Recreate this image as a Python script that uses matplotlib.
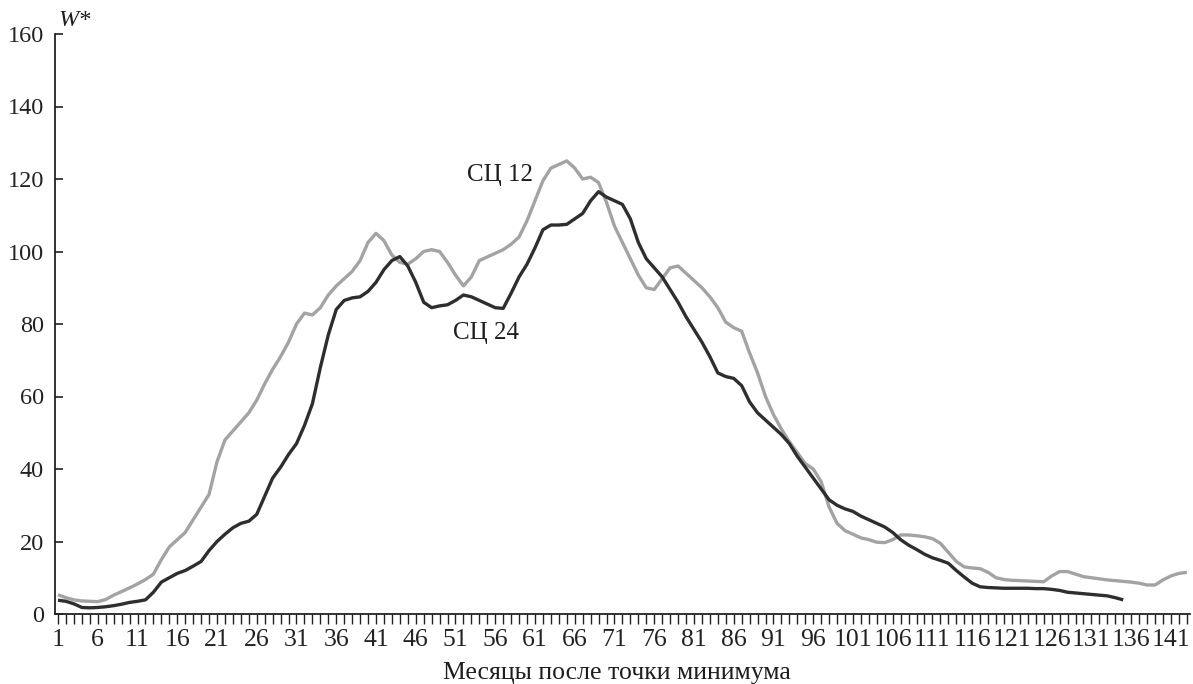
import matplotlib
matplotlib.use("Agg")
import matplotlib.pyplot as plt

# ---- data ----
sc12 = [5.3, 4.5, 3.9, 3.6, 3.5, 3.4, 4.0, 5.2, 6.2, 7.2,
        8.3, 9.5, 11.0, 15.0, 18.5, 20.5, 22.5, 26.0, 29.5, 33.0,
        42.0, 48.0, 50.5, 53.0, 55.5, 59.0, 63.5, 67.5, 71.0, 75.0,
        80.0, 83.0, 82.5, 84.5, 88.0, 90.5, 92.5, 94.5, 97.5, 102.5,
        105.0, 103.0, 99.0, 97.0, 96.5, 98.0, 100.0, 100.5, 100.0, 97.0,
        93.5, 90.5, 93.0, 97.5, 98.5, 99.5, 100.5, 102.0, 104.0, 108.5,
        114.0, 119.5, 123.0, 124.0, 125.0, 123.0, 120.0, 120.5, 119.0, 113.5,
        107.0, 102.5, 98.0, 93.5, 90.0, 89.5, 92.5, 95.5, 96.0, 94.0,
        92.0, 90.0, 87.5, 84.5, 80.5, 79.0, 78.0, 72.0, 66.5, 60.0,
        55.0, 51.0, 47.5, 44.5, 41.5, 40.0, 36.5, 29.5, 25.0, 23.0,
        22.0, 21.0, 20.5, 19.8, 19.7, 20.5, 21.8, 21.8, 21.6, 21.3,
        20.8, 19.5, 17.0, 14.5, 13.0, 12.7, 12.5, 11.5, 10.0, 9.5,
        9.3, 9.2, 9.1, 9.0, 8.9, 10.5, 11.7, 11.7, 11.0, 10.3,
        10.0, 9.7, 9.4, 9.2, 9.0, 8.8, 8.5, 8.0, 8.0, 9.4,
        10.5, 11.2, 11.5]

sc24 = [3.8, 3.5, 2.8, 1.8, 1.7, 1.8, 2.0, 2.3, 2.7, 3.2,
        3.5, 3.9, 6.0, 8.8, 10.0, 11.2, 12.0, 13.2, 14.5, 17.5,
        20.0, 22.0, 23.8, 25.0, 25.6, 27.5, 32.5, 37.5, 40.5, 44.0,
        47.0, 52.0, 58.0, 68.0, 77.0, 84.0, 86.5, 87.2, 87.5, 89.0,
        91.5, 95.0, 97.5, 98.6, 96.0, 91.5, 86.0, 84.5, 85.0, 85.3,
        86.5, 88.0, 87.5, 86.5, 85.5, 84.5, 84.3, 88.5, 93.0, 96.5,
        101.0, 106.0, 107.3, 107.3, 107.5, 109.0, 110.5, 114.0, 116.5, 115.0,
        114.0, 113.0, 109.0, 102.5, 98.0, 95.5, 93.0, 89.5, 86.0, 82.0,
        78.5, 75.0, 71.0, 66.5, 65.5, 65.0, 63.0, 58.5, 55.5, 53.5,
        51.5, 49.5, 47.0, 43.5, 40.5, 37.5, 34.5, 31.5, 30.0, 29.0,
        28.3, 27.0, 26.0, 25.0, 24.0, 22.5, 20.5, 19.0, 17.8, 16.5,
        15.5, 14.8, 14.0, 12.0, 10.2, 8.5, 7.5, 7.3, 7.2, 7.1,
        7.1, 7.1, 7.1, 7.0, 7.0, 6.8, 6.5, 6.0, 5.8, 5.6,
        5.4, 5.2, 5.0, 4.5, 3.9]

months12 = list(range(1, len(sc12) + 1))
months24 = list(range(1, len(sc24) + 1))

x_ticks = list(range(1, 144))
x_ticklabels = [str(m) if (m - 1) % 5 == 0 else "" for m in x_ticks]
y_ticks = [0, 20, 40, 60, 80, 100, 120, 140, 160]

serif = "Liberation Serif"
txt = "#1e1e1e"

fig = plt.figure(figsize=(11.93, 6.84), dpi=100)
ax = fig.add_axes([55 / 1193, 70 / 684, 1135 / 1193, 580 / 684])

ax.plot(months12, sc12, color="#a3a3a3", lw=2.4, solid_capstyle="butt")
ax.plot(months24, sc24, color="#2e2e2e", lw=2.4, solid_capstyle="butt")

ax.set_xlim(0.62, 143.4)
ax.set_ylim(0, 160)

for s in ["top", "right"]:
    ax.spines[s].set_visible(False)
for s in ["left", "bottom"]:
    ax.spines[s].set_linewidth(1.3)
    ax.spines[s].set_color("#222222")

ax.set_yticks(y_ticks)
ax.set_yticklabels([str(v) for v in y_ticks], fontfamily=serif, fontsize=17.5, color=txt)
ax.tick_params(axis="y", direction="in", length=6, width=1.2, pad=8, colors="#222222")

ax.set_xticks(x_ticks)
ax.set_xticklabels(x_ticklabels, fontfamily=serif, fontsize=18.5, color=txt)
ax.tick_params(axis="x", direction="out", length=7, width=1.0, pad=4, colors="#222222")

fig.text(617 / 1193, 5 / 684, "Месяцы после точки минимума", fontfamily=serif,
         fontsize=18.5, ha="center", va="baseline", color=txt)

ax.text(0.003, 1.005, "W*", transform=ax.transAxes, fontfamily=serif,
        fontsize=17.5, style="italic", ha="left", va="bottom", color=txt)

ax.text(52.4, 121, "СЦ 12", fontfamily=serif, fontsize=18, ha="left",
        va="center", color=txt)
ax.text(50.7, 77.5, "СЦ 24", fontfamily=serif, fontsize=18, ha="left",
        va="center", color=txt)

fig.savefig("out.png", dpi=100)
